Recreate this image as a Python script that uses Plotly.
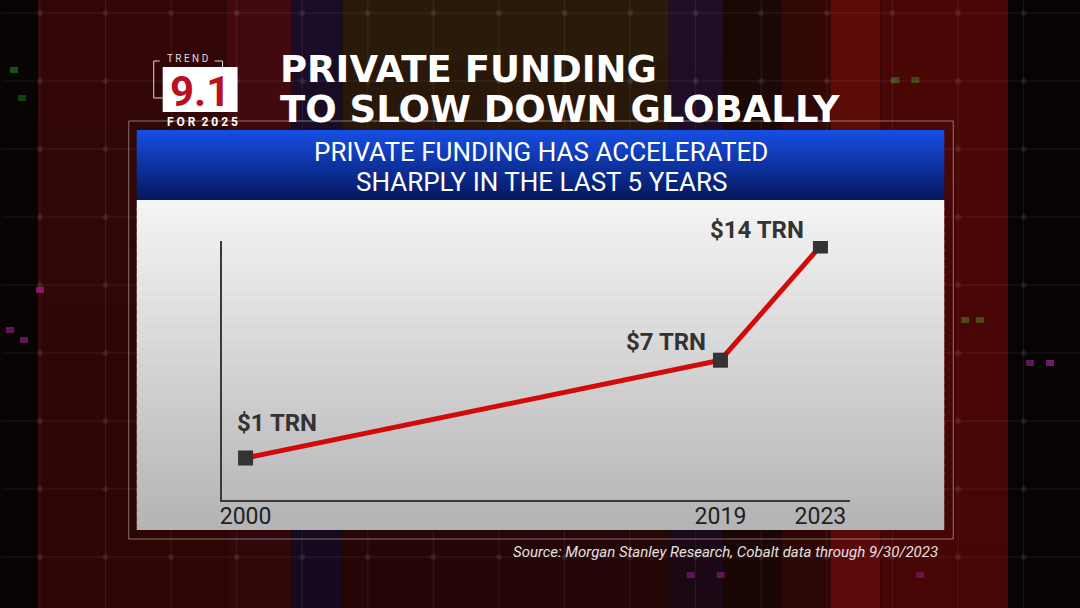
import plotly.graph_objects as go

# ---- data ----
years = [2000, 2019, 2023]
funding_trn = [1, 7, 14]
point_labels = ["$1 TRN", "$7 TRN", "$14 TRN"]
tick_years = [2000, 2019, 2023]
tick_text = ["2000", "2019", "2023"]

title_lines = ["PRIVATE FUNDING", "TO SLOW DOWN GLOBALLY"]
banner_lines = ["PRIVATE FUNDING HAS ACCELERATED", "SHARPLY IN THE LAST 5 YEARS"]
source_text = "Source: Morgan Stanley Research, Cobalt data through 9/30/2023"

W, H = 1080, 608
ROB = "Roboto, sans-serif"
TITLE = "DejaVu Sans, Liberation Sans, sans-serif"

def px(x):
    return x / W

def py(y):
    return 1 - y / H

def lerp(c1, c2, t):
    return "rgb(%d,%d,%d)" % tuple(round(a + (b - a) * t) for a, b in zip(c1, c2))

shapes = []

def rect(x0, y0, x1, y1, color, line=None, layer="below"):
    shapes.append(dict(type="rect", xref="paper", yref="paper",
                       x0=px(x0), x1=px(x1), y0=py(y1), y1=py(y0),
                       fillcolor=color, line=line or dict(width=0), layer=layer))

def seg(x0, y0, x1, y1, color, width=1, layer="below"):
    shapes.append(dict(type="line", xref="paper", yref="paper", x0=px(x0), x1=px(x1),
                       y0=py(y0), y1=py(y1), line=dict(color=color, width=width), layer=layer))

def vgrad(x0, y0, x1, y1, c_top, c_bot, n=24):
    h = (y1 - y0) / n
    for i in range(n):
        t = i / (n - 1) if n > 1 else 0
        y_end = min(y1, y0 + (i + 1) * h + 1.5)
        rect(x0, y0 + i * h, x1, y_end, lerp(c_top, c_bot, t))

# ---- background: dark with coloured vertical columns (top colour, bottom colour) ----
rect(0, 0, W, H, "#0a0404")
stripes = [(0, 36, (8, 4, 4), (8, 4, 4)), (36, 225, (50, 6, 6), (46, 5, 5)),
           (225, 290, (66, 10, 16), (48, 6, 8)), (290, 341, (26, 12, 38), (22, 10, 32)),
           (341, 668, (42, 26, 9), (36, 6, 6)), (668, 723, (30, 14, 40), (26, 8, 20)),
           (723, 781, (26, 8, 5), (26, 6, 5)), (781, 830, (50, 8, 6), (44, 6, 5)),
           (830, 880, (92, 12, 8), (90, 10, 8)), (880, 1008, (72, 6, 5), (70, 6, 5)),
           (1008, 1080, (7, 3, 3), (7, 3, 3))]
for x0, x1, ct, cb in stripes:
    vgrad(x0, 0, x1, H, ct, cb, n=10)
# faint grid with dots
gxs = [38 + 65.7 * k for k in range(17)]
gys = [13 + 68 * k for k in range(9)]
for gx in gxs:
    seg(gx, 0, gx, H, "rgba(255,255,255,0.08)")
for gy in gys:
    seg(0, gy, W, gy, "rgba(255,255,255,0.08)")
for gx in gxs:
    for gy in gys:
        shapes.append(dict(type="circle", xref="paper", yref="paper",
                           x0=px(gx - 3), x1=px(gx + 3), y0=py(gy + 3), y1=py(gy - 3),
                           fillcolor="rgba(255,255,255,0.08)", line=dict(width=0), layer="below"))
# a few glowing dots (decoration)
for (dx, dy, col) in [(12, 70, "rgba(40,160,40,0.5)"), (20, 98, "rgba(40,160,40,0.4)"),
                      (38, 290, "rgba(190,40,170,0.6)"), (8, 330, "rgba(190,40,170,0.5)"),
                      (22, 340, "rgba(190,40,170,0.5)"), (965, 320, "rgba(90,140,30,0.5)"),
                      (980, 320, "rgba(90,140,30,0.5)"), (1050, 363, "rgba(190,40,170,0.6)"),
                      (1030, 363, "rgba(190,40,170,0.5)"), (320, 63, "rgba(50,120,40,0.4)"),
                      (895, 80, "rgba(60,160,40,0.45)"), (915, 80, "rgba(60,160,40,0.45)"),
                      (690, 575, "rgba(170,40,170,0.45)"), (720, 575, "rgba(170,40,170,0.45)"),
                      (920, 575, "rgba(170,40,170,0.4)")]:
    rect(dx - 4, dy - 3, dx + 4, dy + 3, col)

# frame line around the chart card
rect(127, 121, 953, 539, "rgba(0,0,0,0)", line=dict(color="rgba(215,200,200,0.55)", width=1))

# panel (light gray gradient)
vgrad(135, 200, 944, 530, (244, 244, 244), (180, 180, 182), n=40)
# blue banner
vgrad(135, 130, 944, 200, (22, 78, 226), (5, 24, 96), n=20)

# logo
rect(161, 67, 236, 112, "#ffffff")
seg(152, 61, 152, 98, "#dcdcdc")
seg(152, 98, 161, 98, "#dcdcdc")
seg(152, 61, 158, 61, "#dcdcdc")
seg(213, 61, 221, 61, "#dcdcdc")
seg(221, 61, 221, 67, "#dcdcdc")

fig = go.Figure()
fig.add_trace(go.Scatter(
    x=years, y=funding_trn, mode="lines+markers",
    line=dict(color="#d20a0a", width=5),
    marker=dict(symbol="square", size=15, color="#333333"),
    hoverinfo="skip", showlegend=False,
))

annotations = []
label_shift = [(31, 35), (-54, 18), (-63, 16)]
for xv, yv, t, (dx, dy) in zip(years, funding_trn, point_labels, label_shift):
    annotations.append(dict(x=xv, y=yv, xref="x", yref="y", text="<b>%s</b>" % t,
                            showarrow=False, xshift=dx, yshift=dy,
                            xanchor="center", yanchor="middle",
                            font=dict(family=ROB, size=24, color="#333333")))

# title
for i, t in enumerate(title_lines):
    annotations.append(dict(x=px(277), y=py(69 + i * 40), xref="paper", yref="paper",
                            xanchor="left", yanchor="middle", showarrow=False,
                            text="<b>%s</b>" % t,
                            font=dict(family=TITLE, size=37, color="#ffffff")))
# banner text
for i, t in enumerate(banner_lines):
    annotations.append(dict(x=px(540), y=py(152 + i * 30), xref="paper", yref="paper",
                            xanchor="center", yanchor="middle", showarrow=False, text=t,
                            font=dict(family=ROB, size=26, color="#ffffff")))
# logo texts
annotations += [
    dict(x=px(186), y=py(59), xref="paper", yref="paper", showarrow=False,
         xanchor="center", yanchor="middle", text="T R E N D",
         font=dict(family=ROB, size=10, color="#dddddd")),
    dict(x=px(198), y=py(91), xref="paper", yref="paper", showarrow=False,
         xanchor="center", yanchor="middle", text="<b>9.1</b>",
         font=dict(family=ROB, size=42, color="#b8101c")),
    dict(x=px(201), y=py(122), xref="paper", yref="paper", showarrow=False,
         xanchor="center", yanchor="middle", text="<b>F O R  2 0 2 5</b>",
         font=dict(family=ROB, size=12, color="#ffffff")),
    dict(x=px(940), y=py(552), xref="paper", yref="paper", xanchor="right", yanchor="middle",
         showarrow=False, text="<i>%s</i>" % source_text,
         font=dict(family=ROB, size=15, color="#e8e0e0")),
]

fig.update_layout(
    width=W, height=H, margin=dict(l=0, r=0, t=0, b=0),
    paper_bgcolor="#0a0404", plot_bgcolor="rgba(0,0,0,0)",
    shapes=shapes, annotations=annotations, showlegend=False,
    xaxis=dict(domain=[px(220), px(850)], range=[1999.04, 2024.2], showgrid=False, zeroline=False,
               showline=True, linecolor="#3a3a3a", linewidth=1.5, tickmode="array",
               tickvals=tick_years, ticktext=tick_text, ticks="", ticklabelstandoff=-5,
               tickfont=dict(family=ROB, size=23, color="#222222"), fixedrange=True),
    yaxis=dict(domain=[py(500), py(241)], range=[-1.575, 14.31], showgrid=False, zeroline=False,
               showline=True, linecolor="#3a3a3a", linewidth=1.5, showticklabels=False,
               ticks="", fixedrange=True),
)

fig.write_html("out.html", config={"displayModeBar": False},
               post_script="document.body.style.margin='0';document.body.style.overflow='hidden';")
